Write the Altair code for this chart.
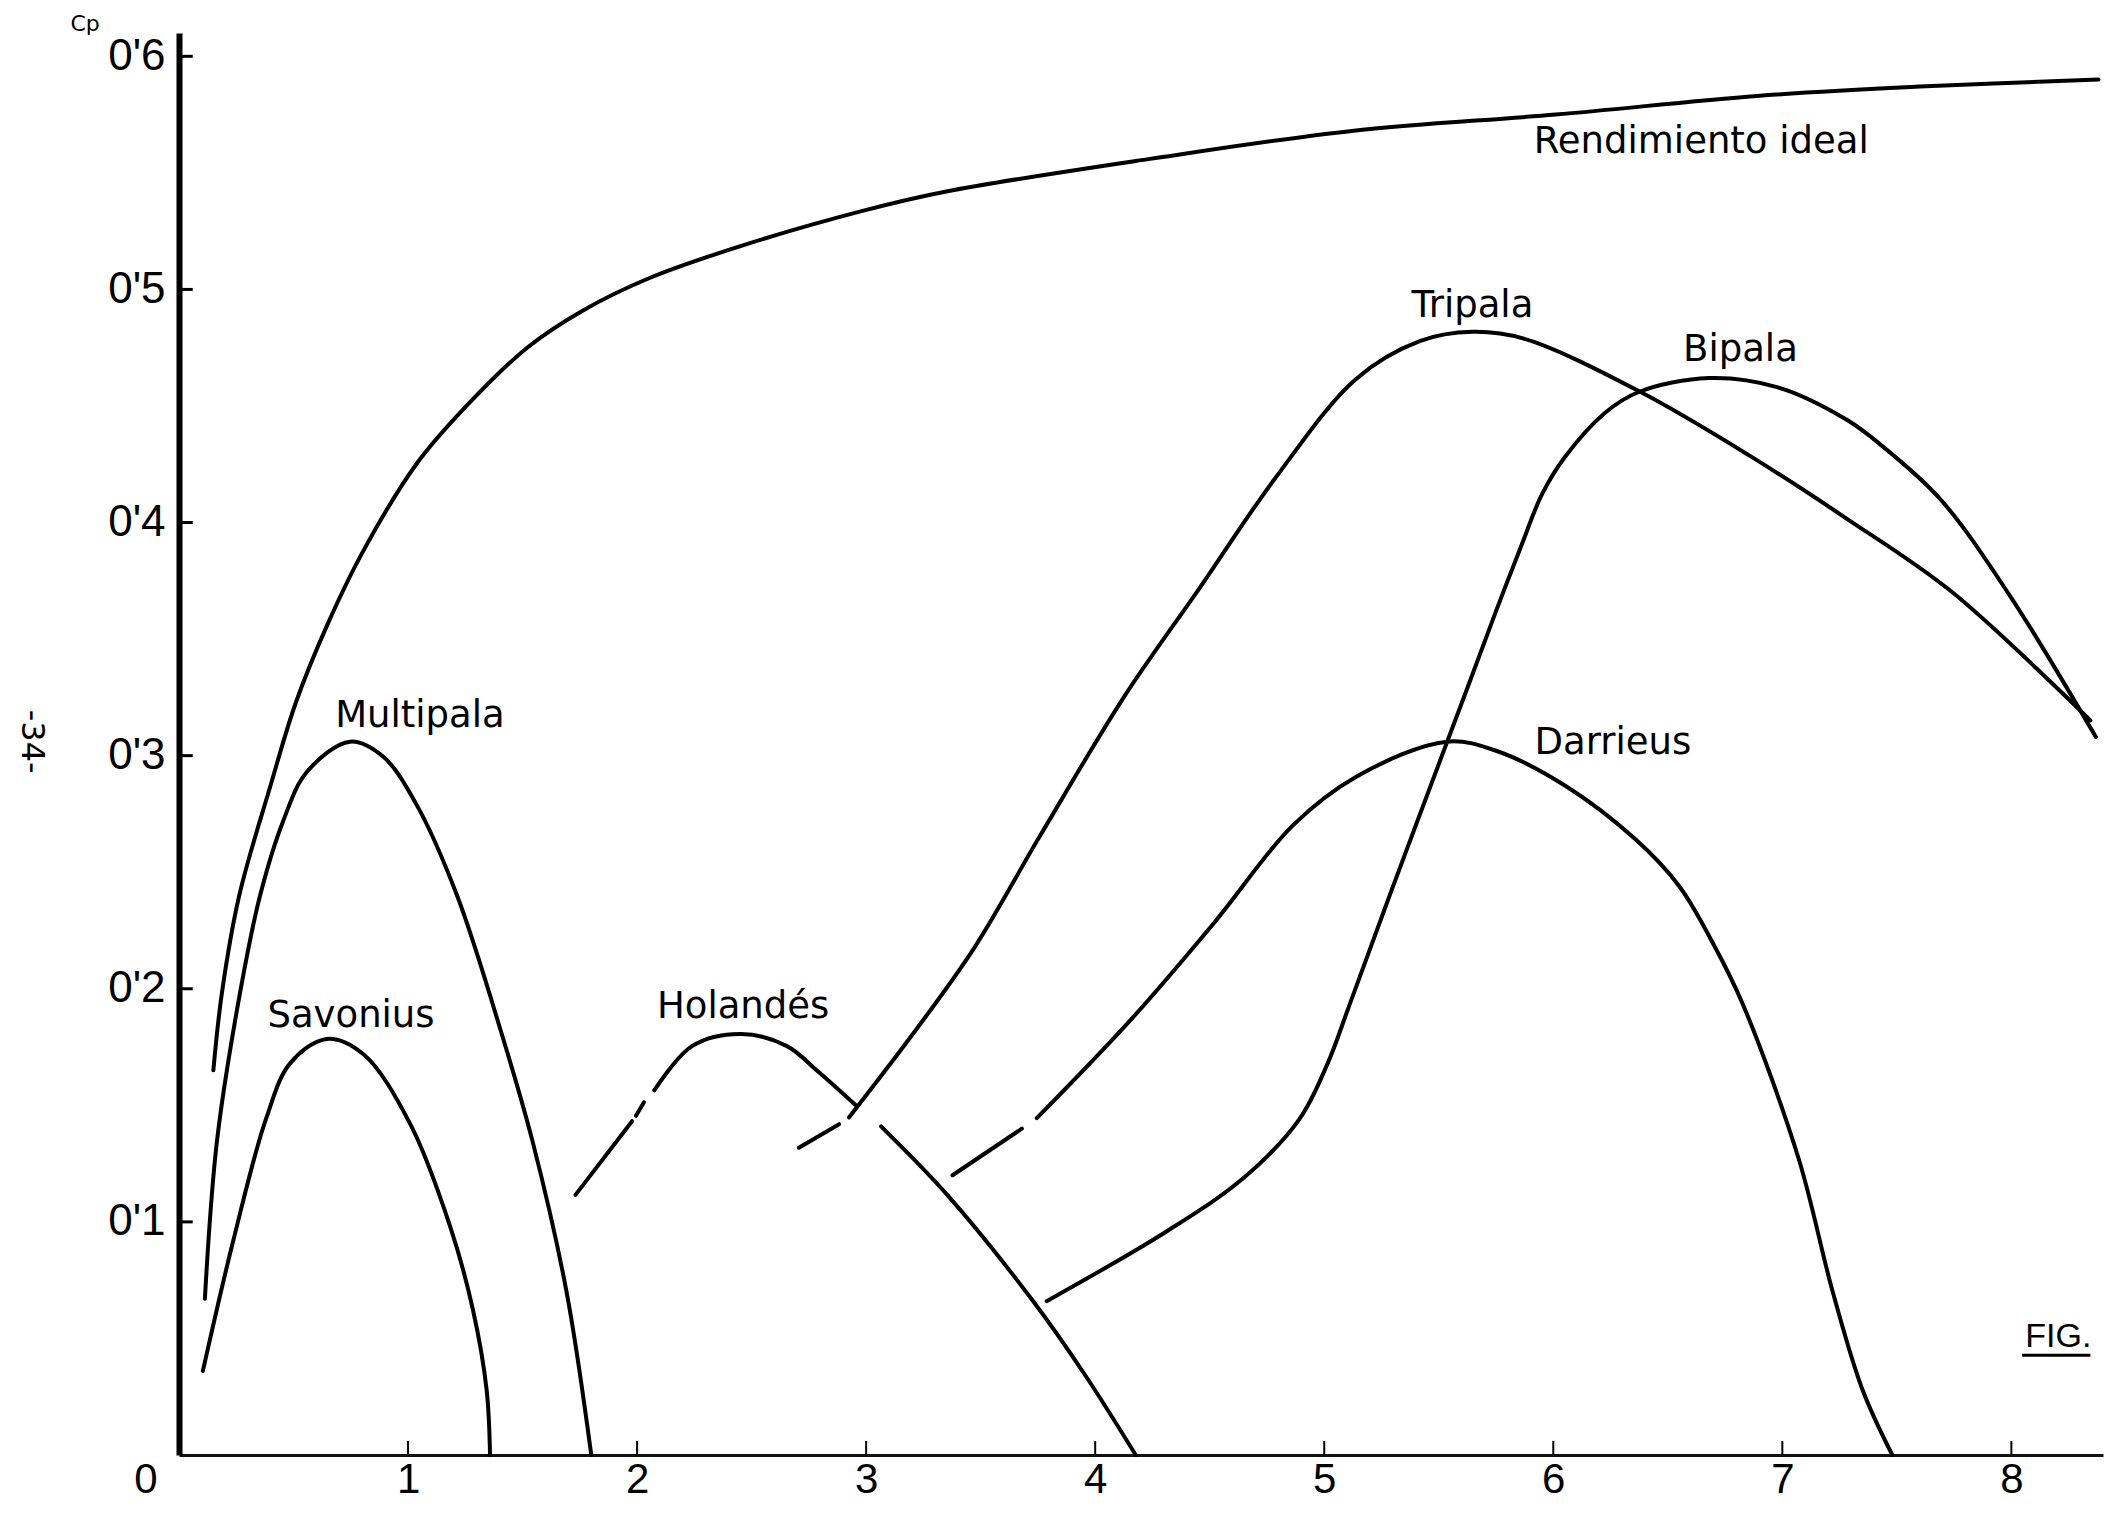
import altair as alt
import pandas as pd

# ---------------- data ----------------
# Rendimiento ideal
ideal_x = [0.150, 0.187, 0.263, 0.399, 0.511, 0.647, 0.800, 1.036, 1.255, 1.520, 1.764, 2.057, 2.465, 2.997, 3.350, 4.240, 5.120, 6.010, 6.890, 7.600, 8.380]
ideal_y = [0.165, 0.198, 0.240, 0.287, 0.323, 0.356, 0.387, 0.425, 0.450, 0.475, 0.491, 0.505, 0.519, 0.534, 0.542, 0.556, 0.568, 0.575, 0.583, 0.587, 0.590]
ideal_seg = [0] * len(ideal_x)

# Multipala
multi_x = [0.113, 0.165, 0.266, 0.354, 0.455, 0.558, 0.747, 0.892, 1.037, 1.214, 1.414, 1.545, 1.692, 1.800]
multi_y = [0.067, 0.134, 0.198, 0.240, 0.272, 0.293, 0.306, 0.2995, 0.279, 0.240, 0.179, 0.134, 0.070, 0.0]
multi_seg = [0] * len(multi_x)

# Savonius
savo_x = [0.104, 0.237, 0.381, 0.485, 0.645, 0.804, 1.007, 1.184, 1.284, 1.343, 1.358]
savo_y = [0.036, 0.092, 0.1445, 0.168, 0.1785, 0.172, 0.1425, 0.098, 0.062, 0.028, 0.0]
savo_seg = [0] * len(savo_x)

# Holandés (dashed start, break at crossing)
hol_x = [1.731, 1.978, 1.995, 2.030, 2.075, 2.240, 2.454, 2.654, 2.790, 2.955, 3.065, 3.356, 3.722, 3.958, 4.177]
hol_y = [0.1116, 0.1432, 0.1455, 0.1513, 0.1564, 0.1754, 0.1806, 0.1754, 0.1645, 0.150, 0.141, 0.1114, 0.0669, 0.034, 0.0]
hol_seg = [0, 0, 1, 1, 2, 2, 2, 2, 2, 2, 3, 3, 3, 3, 3]

# Tripala
tri_x = [2.706, 2.882, 2.925, 3.207, 3.475, 3.758, 4.124, 4.458, 4.785, 5.139, 5.417, 5.647, 5.871, 6.373, 6.857, 7.282, 7.737, 8.345]
tri_y = [0.1318, 0.1419, 0.1448, 0.181, 0.218, 0.2654, 0.3249, 0.3722, 0.4189, 0.4616, 0.4778, 0.4818, 0.4789, 0.4564, 0.4287, 0.4016, 0.3705, 0.3151]
tri_seg = [0, 0] + [1] * 16

# Bipala
bi_x = [3.788, 4.313, 4.650, 4.891, 5.015, 5.110, 5.293, 5.533, 5.640, 5.750, 5.868, 5.950, 6.050, 6.225, 6.373, 6.680, 6.981, 7.283, 7.434, 7.690, 7.991, 8.369]
bi_y = [0.066, 0.096, 0.119, 0.144, 0.168, 0.193, 0.242, 0.305, 0.333, 0.362, 0.392, 0.412, 0.428, 0.447, 0.456, 0.462, 0.458, 0.444, 0.433, 0.410, 0.369, 0.308]
bi_seg = [0] * len(bi_x)

# Darrieus
dar_x = [3.377, 3.680, 3.745, 4.158, 4.525, 4.862, 5.140, 5.535, 5.753, 6.054, 6.360, 6.550, 6.700, 6.827, 7.070, 7.220, 7.350, 7.480]
dar_y = [0.120, 0.140, 0.1445, 0.187, 0.229, 0.270, 0.291, 0.306, 0.302, 0.287, 0.264, 0.244, 0.219, 0.1935, 0.1275, 0.070, 0.028, 0.0]
dar_seg = [0, 0] + [1] * 16

# axis ticks
x_tick_values = [1, 2, 3, 4, 5, 6, 7, 8]
y_tick_values = [0.1, 0.2, 0.3, 0.4, 0.5, 0.6]

# curve labels
label_text = ["Multipala", "Savonius", "Holandés", "Tripala", "Bipala", "Darrieus", "Rendimiento ideal"]
label_x = [1.052, 0.751, 2.463, 5.647, 6.817, 6.260, 6.646]
label_y = [0.3123, 0.1836, 0.1875, 0.4881, 0.4694, 0.3008, 0.5584]

# other annotations
fig_text = ["FIG."]
fig_x = [8.205]
fig_y = [0.0465]
fig_line_x = [8.047]
fig_line_x2 = [8.345]
fig_line_y = [0.0428]

page_text = ["-34-"]
page_x = [-0.64]
page_y = [0.306]

cp_text = ["Cp"]
cp_x = [-0.41]
cp_y = [0.6107]

zero_text = ["0"]
zero_x = [-0.144]
zero_y = [-0.0163]

# ---------------- build tables ----------------
rows = []
for name, xs_, ys_, ss_ in [
    ("Rendimiento ideal", ideal_x, ideal_y, ideal_seg),
    ("Multipala", multi_x, multi_y, multi_seg),
    ("Savonius", savo_x, savo_y, savo_seg),
    ("Holandés", hol_x, hol_y, hol_seg),
    ("Tripala", tri_x, tri_y, tri_seg),
    ("Bipala", bi_x, bi_y, bi_seg),
    ("Darrieus", dar_x, dar_y, dar_seg),
]:
    for xv, yv, s in zip(xs_, ys_, ss_):
        rows.append({"curve": name, "key": f"{name}-{s}", "x": xv, "y": yv})
curves_df = pd.DataFrame(rows)

xs = alt.Scale(domain=[0, 8.4], nice=False, zero=False)
ys = alt.Scale(domain=[0, 0.61], nice=False, zero=False)

FONT_TICK = "Liberation Sans"
FONT_LBL = "DejaVu Sans"

x_axis = alt.Axis(values=x_tick_values, title=None, grid=False, ticks=False, tickSize=0,
                  domainColor="#111111", domainWidth=3, labelFont=FONT_TICK, labelFontSize=42,
                  labelColor="black", labelPadding=4, labelAngle=0, labelFlush=False,
                  labelOverlap=False)
y_axis = alt.Axis(values=y_tick_values, title=None, grid=False, ticks=False, tickSize=0,
                  domainColor="black", domainWidth=6, labelFont=FONT_TICK, labelFontSize=44,
                  labelColor="black", labelPadding=14, labelFlush=False, labelOverlap=False,
                  labelExpr="replace(format(datum.value, '.1f'), '.', \"'\")")


def X(field):
    return alt.X(field, scale=xs, axis=x_axis)


def Y(field):
    return alt.Y(field, scale=ys, axis=y_axis)


curves = alt.Chart(curves_df).mark_line(
    interpolate="catmull-rom", color="black", strokeWidth=4, strokeCap="round"
).encode(
    x=X("x:Q"),
    y=Y("y:Q"),
    detail="key:N",
)

xt_df = pd.DataFrame({"x": x_tick_values, "y0": [0.0] * len(x_tick_values), "y1": [0.006] * len(x_tick_values)})
xticks = alt.Chart(xt_df).mark_rule(color="black", strokeWidth=2).encode(
    x=X("x:Q"), y=Y("y0:Q"), y2="y1:Q",
)

yt_df = pd.DataFrame({"y": y_tick_values, "x0": [0.0] * len(y_tick_values), "x1": [0.06] * len(y_tick_values)})
yticks = alt.Chart(yt_df).mark_rule(color="black", strokeWidth=3).encode(
    y=Y("y:Q"), x=X("x0:Q"), x2="x1:Q",
)


def text_layer(texts, xv, yv, font, size, **kw):
    df = pd.DataFrame({"t": texts, "x": xv, "y": yv})
    return alt.Chart(df).mark_text(font=font, fontSize=size, color="black", **kw).encode(
        x=X("x:Q"), y=Y("y:Q"), text="t:N",
    )


labels = text_layer(label_text, label_x, label_y, FONT_LBL, 37, align="center", baseline="alphabetic")
fig = text_layer(fig_text, fig_x, fig_y, FONT_TICK, 34, align="center", baseline="alphabetic")
fig_line_df = pd.DataFrame({"x": fig_line_x, "x2": fig_line_x2, "y": fig_line_y})
fig_line = alt.Chart(fig_line_df).mark_rule(color="black", strokeWidth=3).encode(
    x=X("x:Q"), x2="x2:Q", y=Y("y:Q")
)
page = text_layer(page_text, page_x, page_y, FONT_LBL, 32, align="center", baseline="middle", angle=90)
cp = text_layer(cp_text, cp_x, cp_y, FONT_LBL, 22, align="center", baseline="alphabetic")
zero = text_layer(zero_text, zero_x, zero_y, FONT_TICK, 42, align="center", baseline="alphabetic")

chart = alt.layer(
    curves, xticks, yticks, labels, fig, fig_line, page, cp, zero
).properties(
    width=1924,
    height=1422,
    autosize=alt.AutoSizeParams(type="none"),
    padding={"left": 171, "top": 25, "right": 5, "bottom": 47},
    background="white",
).configure_view(stroke=None)

chart.save("out.html", embed_options={"renderer": "svg", "actions": False})
